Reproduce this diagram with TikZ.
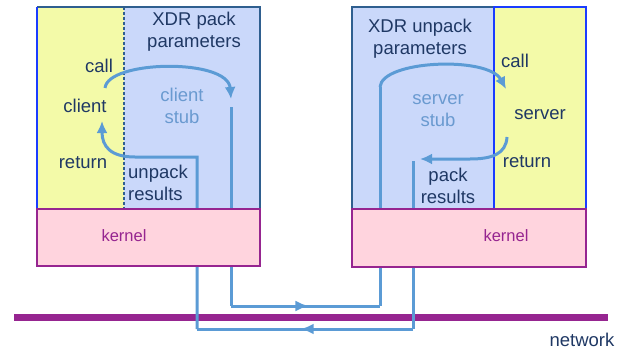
\documentclass[tikz,border=0pt]{standalone}
\usepackage{fontspec}
\setmainfont{Liberation Sans}
\usetikzlibrary{arrows.meta,decorations.markings}
\definecolor{yfill}{HTML}{F3FAA8}
\definecolor{bfill}{HTML}{CAD8FA}
\definecolor{steel}{HTML}{2F5F8F}
\definecolor{bright}{HTML}{1A3CFF}
\definecolor{navy}{HTML}{1F3864}
\definecolor{stubc}{HTML}{6A9AD0}
\definecolor{flowc}{HTML}{5B9BD5}
\definecolor{purp}{HTML}{962590}
\definecolor{pinkf}{HTML}{FFD4DE}
\tikzset{
  boxarea/.style={inner sep=0pt, outer sep=0pt, anchor=north west},
  lbl/.style={text=navy, font=\fontsize{18.5}{22}\selectfont, align=center, inner sep=0pt},
  stublbl/.style={lbl, text=stubc},
  kern/.style={text=purp, font=\fontsize{16.5}{20}\selectfont, inner sep=0pt},
  flow/.style={draw=flowc, line width=3pt},
  flowarrow/.style={flow, -{Latex[length=12pt,width=11pt]}},
  midarrow/.style={flow, postaction={decorate}, decoration={markings,
     mark=at position 0.52 with {\arrow[flowc]{Latex[length=13pt,width=11pt]}}}},
  kernelbox/.style={boxarea, fill=pinkf, draw=purp, line width=2pt},
}
\begin{document}
\begin{tikzpicture}[x=1pt,y=-1pt]
\useasboundingbox (0,0) rectangle (617,350);
% ---------- left machine
\node[boxarea, fill=yfill, minimum width=87pt, minimum height=202pt] (ly) at (37,7) {};
\node[boxarea, fill=bfill, minimum width=136pt, minimum height=202pt] (lb) at (124,7) {};
\draw[steel, line width=2pt] (ly.north west) -- (lb.north east) -- (lb.south east) -- (ly.south west);
\draw[bright, line width=2pt] (ly.north west) -- (ly.south west);
\draw[steel, line width=1.6pt, dash pattern=on 3pt off 2pt] (lb.north west) -- (lb.south west);
% ---------- right machine
\node[boxarea, fill=bfill, draw=steel, line width=2pt, minimum width=142pt, minimum height=202pt] (rb) at (352,7) {};
\node[boxarea, fill=yfill, draw=bright, line width=2pt, minimum width=92pt, minimum height=202pt] (ry) at (494,7) {};
% ---------- network
\coordinate (n1) at (14,317);
\coordinate (n2) at (608,317);
\draw[purp, line width=7pt] (n1) -- (n2);
\node[lbl] (net) at (582,340) {network};
% ---------- flow coordinates
\coordinate (c1) at (105,88);
\coordinate (c2) at (231,99);
\coordinate (d1) at (231,107);
\coordinate (d2) at (231,306);
\coordinate (d3) at (380,306);
\coordinate (d4) at (380,87);
\coordinate (s1) at (506,89);
\coordinate (r1) at (507,137);
\coordinate (r2) at (420,159);
\coordinate (e1) at (413,161);
\coordinate (e2) at (413,329);
\coordinate (e3) at (197,329);
\coordinate (e4) at (197,157);
\coordinate (e5) at (102,121);
% call path
\draw[flowarrow] (c1) .. controls (108,60) and (228,58) .. (c2);
\draw[flow] (d1) -- (d2);
\draw[midarrow] (d2) -- (d3);
\draw[flow] (d3) -- (d4);
\draw[flowarrow] (d4) .. controls (382,60) and (488,56) .. (s1);
% return path
\draw[flowarrow] (r1) .. controls (506,154) and (492,159) .. (470,159) -- (r2);
\draw[flow] (e1) -- (e2);
\draw[midarrow] (e2) -- (e3);
\draw[flow, -{Latex[length=12pt,width=11pt]}] (e3) -- (e4) -- (135,157) .. controls (110,157) and (102,146) .. (e5);
% ---------- kernels (over the flows)
\node[kernelbox, minimum width=223pt, minimum height=57pt] (lk) at (37,209) {};
\node[kernelbox, minimum width=234pt, minimum height=58pt] (rk) at (352,209) {};
\node[kern] (lkt) at (124,236) {kernel};
\node[kern] (rkt) at (506,236) {kernel};
% ---------- labels left
\node[lbl] (lxdr) at (194,32) {XDR pack\\parameters};
\node[lbl] (lcall) at (99,66) {call};
\node[lbl] (lclient) at (85,106) {client};
\node[stublbl] (lstub) at (182,106) {client\\stub};
\node[lbl] (lret) at (83,163) {return};
\node[lbl, align=left, anchor=west] (lunp) at (128,183) {unpack\\results};
% ---------- labels right
\node[lbl] (rxdr) at (420,39) {XDR unpack\\parameters};
\node[lbl] (rcall) at (515,61) {call};
\node[lbl] (rserver) at (540,115) {server};
\node[lbl] (rret) at (527,162) {return};
\node[stublbl] (rstub) at (438,111) {server\\stub};
\node[lbl] (rpack) at (448,186) {pack\\results};
\end{tikzpicture}
\end{document}
